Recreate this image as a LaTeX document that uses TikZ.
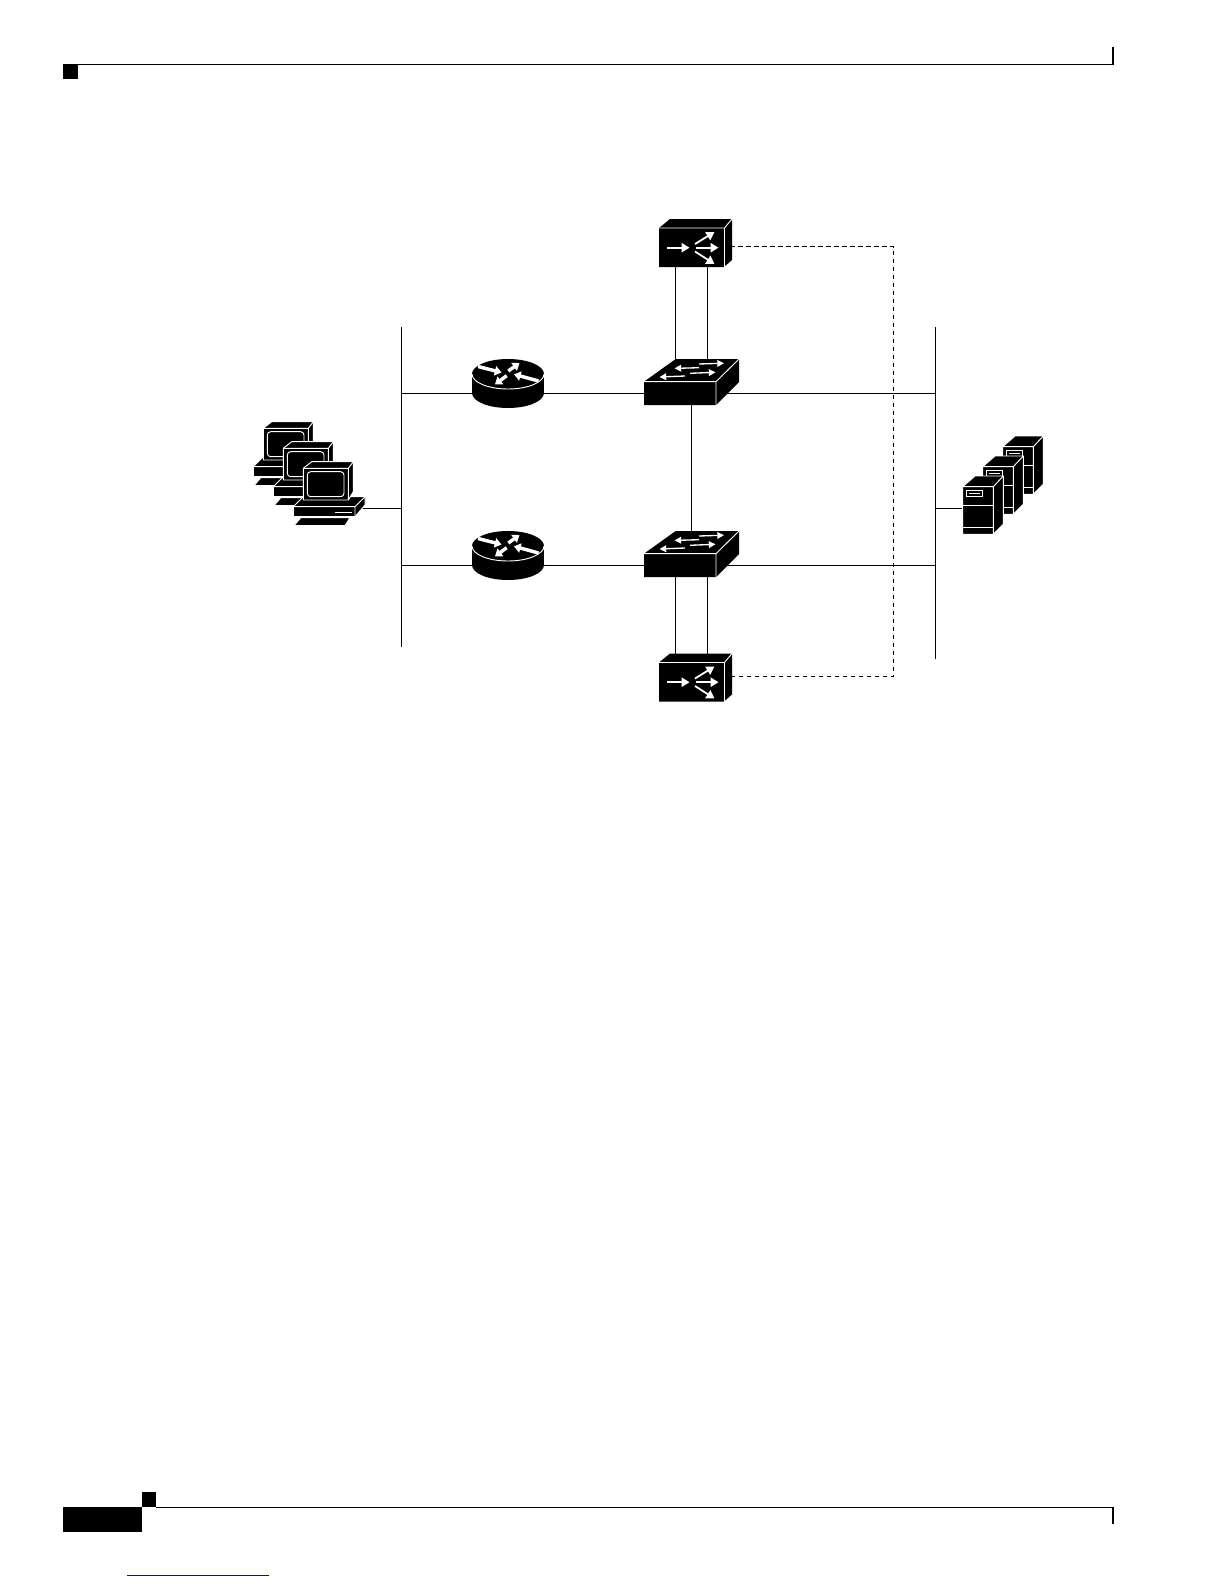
\documentclass[tikz,border=0pt]{standalone}
\usetikzlibrary{arrows.meta}
\definecolor{linkblue}{RGB}{15,15,140}
\tikzset{
  link/.style={draw=black,line width=0.8pt},
  dashlink/.style={draw=black,line width=0.75pt,dash pattern=on 3.4pt off 2.6pt},
  rule/.style={draw=black,line width=1pt},
  edge/.style={draw=white,line width=0.7pt},
  halo/.style={fill=black,draw=white,line width=0.7pt,line join=round},
  warrow/.style={draw=white,line width=1.35pt,-{Triangle[fill=white,length=6pt,width=7pt]}},
  thinarrow/.style={draw=white,line width=1pt,-{Triangle[fill=white,length=5pt,width=5pt]}},
  fatarrow/.style={draw=white,line width=2.6pt,-{Triangle[fill=white,length=5pt,width=7pt]}},
  pics/msicon/.style={code={
    \fill[black] (659,228) -- (670,219) -- (732,219) -- (732,260) -- (724,267) -- (659,267) -- cycle;
    \draw[edge] (659,228) -- (724.5,228) -- (732,219) (724.5,228) -- (724.5,267);
    \draw[warrow] (667.3,247.7) -- (689.5,247.7);
    \draw[warrow] (695,244) -- (714.5,232);
    \draw[warrow] (696,247.7) -- (718.5,247.7);
    \draw[warrow] (695,251.5) -- (714.5,264);
  }},
  pics/switchicon/.style={code={
    \fill[black] (644,381.7) -- (675.7,359) -- (739,359) -- (739,382) -- (716,405) -- (644,405) -- cycle;
    \draw[edge] (644,381.7) -- (716,381.7) -- (739,359) (716,381.7) -- (716,405);
    \draw[thinarrow] (699,364) -- (724,363.2);
    \draw[thinarrow] (699,367.7) -- (674.5,368.4);
    \draw[thinarrow] (690,373.3) -- (715.5,372.3);
    \draw[thinarrow] (685,376) -- (659.5,377);
  }},
  pics/routericon/.style={code={
    \fill[black] (508,374) ellipse [x radius=36,y radius=15];
    \fill[black] (472,374) rectangle (544,393);
    \fill[black] (508,393) ellipse [x radius=36,y radius=15];
    \draw[edge] (472,374) arc [start angle=180,end angle=0,x radius=36,y radius=15];
    \draw[fatarrow] (478,366.5) -- (501.5,372.5);
    \draw[fatarrow] (538.5,381) -- (514,374.3);
    \draw[fatarrow] (508.3,371) -- (519.5,363);
    \draw[fatarrow] (506.7,375.7) -- (495,384.3);
  }},
  pics/pcicon/.style={code={
    % base and keyboard
    \path[halo] (293.3,506.7) -- (303.3,496.7) -- (365,496.7) -- (365,505) -- (355,516.7) -- (293.3,516.7) -- cycle;
    \draw[edge] (293.3,506.7) -- (355,506.7) -- (365,496.7) (355,506.7) -- (355,516.7);
    \draw[edge] (335,512.3) -- (351.7,512.3);
    \path[halo] (294,525.7) -- (300.7,517.7) -- (350,517.7) -- (345,525.7) -- cycle;
    % monitor
    \path[halo] (303.3,468.3) -- (311.7,461.7) -- (353.3,461.7) -- (353.3,491.7) -- (348.3,500) -- (303.3,500) -- cycle;
    \draw[edge] (303.3,468.3) -- (348.3,468.3) -- (353.3,461.7) (348.3,468.3) -- (348.3,500);
    \draw[edge,rounded corners=2.5pt] (307.3,471.7) rectangle (344,496.7);
  }},
  pics/servericon/.style={code={
    \path[halo] (962.7,486.7) -- (975,476) -- (1003.3,476) -- (1003.3,524.3) -- (993.3,534.3) -- (962.7,534.3) -- cycle;
    \draw[edge] (962.7,486.7) -- (993.3,486.7) -- (1003.3,476) (993.3,486.7) -- (993.3,534.3);
    \draw[edge] (962.7,505) -- (993.3,505) (962.7,527.7) -- (993.3,527.7);
    \draw[edge] (966.7,490.7) rectangle (982.3,496.7);
    \draw[edge] (969,493.7) -- (980,493.7);
  }},
}
\begin{document}
\begin{tikzpicture}[x=0.75pt,y=-0.75pt]
\useasboundingbox (0,0) rectangle (1224,1584);
\fill[white] (0,0) rectangle (1224,1584);

% page furniture
\fill[black] (63,64) rectangle (78,79);
\draw[rule] (78,64.5) -- (1113,64.5);
\draw[line width=1.3pt] (1112.7,47) -- (1112.7,65);
\fill[black] (142,1492) rectangle (156,1507);
\fill[black] (63,1507) rectangle (142,1532);
\draw[rule] (156,1507.5) -- (1113,1507.5);
\draw[line width=1.3pt] (1112.7,1507) -- (1112.7,1524);
\draw[line width=1.1pt,draw=linkblue] (127,1575.5) -- (269,1575.5);

% named anchor points
\coordinate (busLtop) at (401.7,327);
\coordinate (busLbot) at (401.7,647);
\coordinate (busRtop) at (935.7,327);
\coordinate (busRbot) at (935.7,658.5);
\coordinate (pcs) at (350,508.5);
\coordinate (servers) at (975,508.5);
\coordinate (r1) at (508,393.5);
\coordinate (r2) at (508,565.5);
\coordinate (s1) at (691.5,393.5);
\coordinate (s2) at (691.5,565.5);
\coordinate (m1) at (690,246.5);
\coordinate (m2) at (690,676.5);
\coordinate (m1a) at (675.5,246.5);
\coordinate (m1b) at (707.5,246.5);
\coordinate (m2a) at (675.5,676.5);
\coordinate (m2b) at (707.5,676.5);
\coordinate (dashTop) at (893.7,246.5);
\coordinate (dashBot) at (893.7,676.5);

% connectors
\draw[link] (busLtop) -- (busLbot);
\draw[link] (busRtop) -- (busRbot);
\draw[link] (pcs) -- (busLtop|-pcs);
\draw[link] (servers) -- (busRtop|-servers);
\draw[link] (busLtop|-r1) -- (r1) -- (s1) -- (busRtop|-s1);
\draw[link] (busLtop|-r2) -- (r2) -- (s2) -- (busRtop|-s2);
\draw[link] (s1) -- (s2);
\draw[link] (m1a) -- (m1a|-s1);
\draw[link] (m1b) -- (m1b|-s1);
\draw[link] (m2a) -- (m2a|-s2);
\draw[link] (m2b) -- (m2b|-s2);
\draw[dashlink] (m1) -- (dashTop) -- (dashBot) -- (m2);

% devices
\pic at (0,0) {msicon};
\pic at (0,434.5) {msicon};
\pic at (0,0) {switchicon};
\pic at (0,172) {switchicon};
\pic at (0,0) {routericon};
\pic at (0,172) {routericon};
\pic at (-40,-40) {pcicon};
\pic at (-20,-20) {pcicon};
\pic at (0,0) {pcicon};
\pic at (40,-40) {servericon};
\pic at (20,-20) {servericon};
\pic at (0,0) {servericon};
\end{tikzpicture}
\end{document}
